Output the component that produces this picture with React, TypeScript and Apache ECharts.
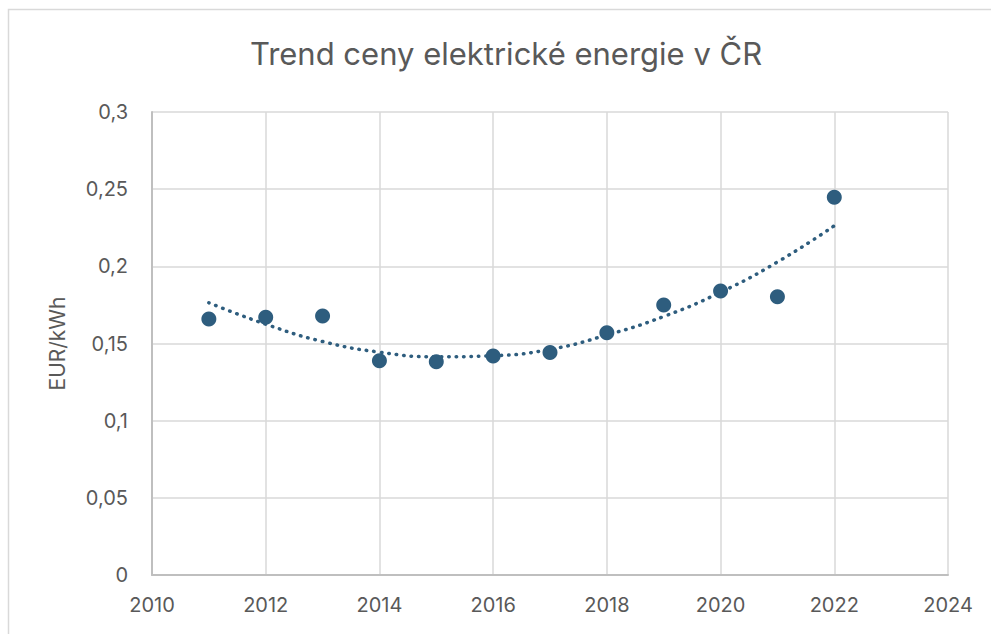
import React, { useEffect, useRef } from "react";
import * as echarts from "echarts";

const titleText = "Trend ceny elektrické energie v ČR";
const yAxisName = "EUR/kWh";
const years = [2011, 2012, 2013, 2014, 2015, 2016, 2017, 2018, 2019, 2020, 2021, 2022];
const prices = [0.1659, 0.167, 0.1678, 0.1389, 0.1382, 0.1419, 0.1441, 0.157, 0.175, 0.184, 0.1803, 0.2447];
const trendValues = [0.1764, 0.1625, 0.1513, 0.1444, 0.1414, 0.1421, 0.1462, 0.1555, 0.1675, 0.1832, 0.2028, 0.2263];
const xTicks = [2010, 2012, 2014, 2016, 2018, 2020, 2022, 2024];
const yTicks = [0, 0.05, 0.1, 0.15, 0.2, 0.25, 0.3];
const yTickLabels = ["0", "0,05", "0,1", "0,15", "0,2", "0,25", "0,3"];

const FONT = "Inter, Roboto, sans-serif";
const TEXT = "#595959";
const MARK = "#2E5D7E";

export default function App() {
  const ref = useRef<HTMLDivElement>(null);
  useEffect(() => {
    if (!ref.current) return;
    const chart = echarts.init(ref.current, null, { renderer: "svg" });
    const labelFor = (v: number) => {
      const i = yTicks.findIndex((t) => Math.abs(t - v) < 1e-9);
      return i >= 0 ? yTickLabels[i] : String(v).replace(".", ",");
    };
    chart.setOption({
      animation: false,
      backgroundColor: "#ffffff",
      graphic: [
        {
          type: "rect",
          shape: { x: 8.5, y: 9.5, width: 1000, height: 700 },
          style: { fill: "none", stroke: "#d9d9d9", lineWidth: 1.5 },
          silent: true,
        },
        {
          type: "text",
          x: 506,
          y: 53,
          style: {
            text: titleText,
            fill: TEXT,
            font: `31px ${FONT}`,
            textAlign: "center",
            textVerticalAlign: "middle",
          },
        },
      ],
      grid: {
        left: 152,
        right: 43,
        top: 112,
        bottom: 59,
        containLabel: false,
        outerBoundsMode: "none",
      },
      xAxis: {
        type: "value",
        min: xTicks[0],
        max: xTicks[xTicks.length - 1],
        interval: 2,
        axisLine: { show: true, lineStyle: { color: "#bfbfbf", width: 2 } },
        axisTick: { show: false },
        splitLine: { show: true, lineStyle: { color: "#d9d9d9", width: 1.5 } },
        axisLabel: {
          color: TEXT,
          fontSize: 20,
          fontFamily: FONT,
          margin: 20,
          formatter: (v: number) => String(v),
        },
      },
      yAxis: {
        type: "value",
        min: yTicks[0],
        max: yTicks[yTicks.length - 1],
        interval: 0.05,
        name: yAxisName,
        nameLocation: "middle",
        nameGap: 84,
        nameTextStyle: { color: TEXT, fontSize: 21, fontFamily: FONT },
        axisLine: { show: true, lineStyle: { color: "#bfbfbf", width: 2 } },
        axisTick: { show: false },
        splitLine: { show: true, lineStyle: { color: "#d9d9d9", width: 1.5 } },
        axisLabel: {
          color: TEXT,
          fontSize: 20,
          fontFamily: FONT,
          margin: 24,
          formatter: labelFor,
        },
      },
      series: [
        {
          name: "Trend",
          type: "line",
          data: years.map((y, i) => [y, trendValues[i]]),
          smooth: true,
          showSymbol: false,
          symbol: "none",
          lineStyle: { color: MARK, width: 3.5, type: [0.5, 7], cap: "round", opacity: 1 },
          z: 2,
        },
        {
          name: "Cena",
          type: "scatter",
          data: years.map((y, i) => [y, prices[i]]),
          symbol: "circle",
          symbolSize: 15,
          itemStyle: { color: MARK, opacity: 1 },
          z: 3,
        },
      ],
    });
    return () => chart.dispose();
  }, []);
  return (
    <div
      ref={ref}
      style={{ position: "absolute", left: 0, top: 0, width: 991, height: 634 }}
    />
  );
}
